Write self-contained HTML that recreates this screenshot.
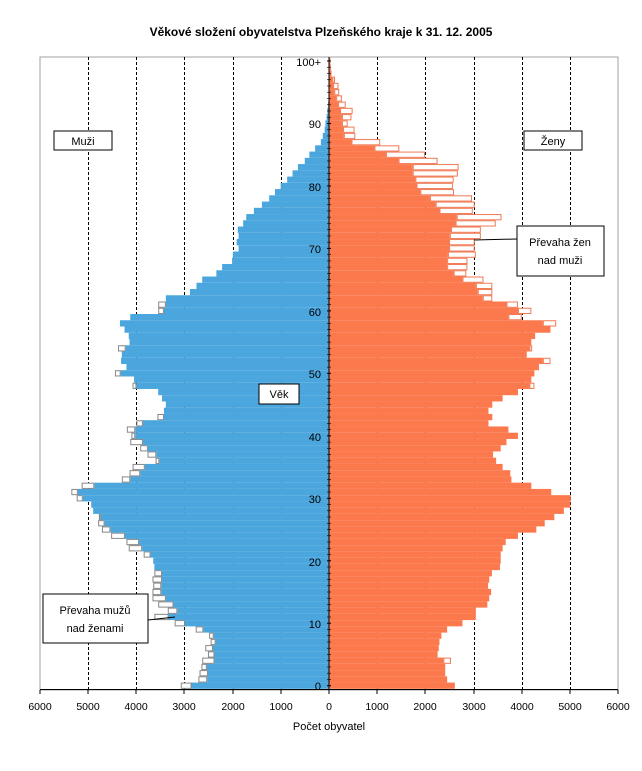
<!DOCTYPE html>
<html><head><meta charset="utf-8"><style>
body{margin:0;background:#fff}
svg{display:block;font-family:"Liberation Sans",Arial,sans-serif}
</style></head><body>
<svg id="s" width="642" height="771" viewBox="0 0 642 771" xmlns="http://www.w3.org/2000/svg">
<rect width="642" height="771" fill="#fff"/>
<text x="321" y="36" text-anchor="middle" font-size="12" font-weight="bold">Věkové složení obyvatelstva Plzeňského kraje k 31. 12. 2005</text>
<rect x="40" y="57" width="578" height="633" fill="#fff" stroke="#a0a0a0"/>
<g id="grid" stroke="#000" stroke-width="1" stroke-dasharray="3,2"></g>
<g id="bars"></g>
<g id="axis"></g>
<g font-size="11" text-anchor="end">
<text x="321" y="66">100+</text><text x="321" y="128">90</text><text x="321" y="191">80</text><text x="321" y="253">70</text><text x="321" y="316">60</text><text x="321" y="378">50</text><text x="321" y="441">40</text><text x="321" y="503">30</text><text x="321" y="566">20</text><text x="321" y="628">10</text><text x="321" y="690">0</text>
</g>
<g font-size="10.5" text-anchor="middle">
<text x="40" y="710">6000</text><text x="88" y="710">5000</text><text x="136" y="710">4000</text><text x="184" y="710">3000</text><text x="233" y="710">2000</text><text x="281" y="710">1000</text><text x="329" y="710">0</text><text x="377" y="710">1000</text><text x="425" y="710">2000</text><text x="474" y="710">3000</text><text x="522" y="710">4000</text><text x="570" y="710">5000</text><text x="618" y="710">6000</text>
</g>
<text x="329" y="730" text-anchor="middle" font-size="11">Počet obyvatel</text>
<rect x="54" y="131" width="58" height="19" fill="#fff" stroke="#000"/>
<text x="83" y="145" text-anchor="middle" font-size="11">Muži</text>
<rect x="524" y="131" width="58" height="19" fill="#fff" stroke="#000"/>
<text x="553" y="145" text-anchor="middle" font-size="11">Ženy</text>
<rect x="259" y="384" width="40" height="20" fill="#fff" stroke="#000"/>
<text x="279" y="398" text-anchor="middle" font-size="11">Věk</text>
<line x1="474" y1="240" x2="517" y2="239" stroke="#000"/>
<rect x="517" y="226" width="87" height="50" fill="#fff" stroke="#000"/>
<text x="560" y="246" text-anchor="middle" font-size="11">Převaha žen</text>
<text x="560" y="264" text-anchor="middle" font-size="11">nad muži</text>
<line x1="148" y1="620" x2="175" y2="617" stroke="#000"/>
<rect x="43" y="594" width="105" height="49" fill="#fff" stroke="#000"/>
<text x="95" y="614" text-anchor="middle" font-size="11">Převaha mužů</text>
<text x="95" y="632" text-anchor="middle" font-size="11">nad ženami</text>
</svg>
<script>
var NS="http://www.w3.org/2000/svg";
function el(p,t,a){var e=document.createElementNS(NS,t);for(var k in a)e.setAttribute(k,a[k]);p.appendChild(e);return e;}
var X=function(z){return 30+z/2.613;};
var Y=function(a){return 685.7-6.247*a;};
var mf=[422,463,465,462,482,482,478,485,480,453,405,362,385,375,355,343,343,345,345,325,322,315,293,285,248,210,195,185,165,160,138,125,168,262,288,300,338,330,308,295,275,275,295,350,350,355,345,335,278,272,237,252,238,240,250,260,258,247,235,262,350,355,355,418,435,450,487,502,528,530,545,540,545,543,557,565,585,606,625,640,655,672,686,700,718,730,745,760,765,770,772,775,777,779,780,781,781,781,781,781,781];
var mo={0:394,1:440,2:443,3:448,4:450,5:465,6:458,7:472,8:468,9:433,10:378,11:325,12:360,13:335,14:320,15:320,16:322,17:320,18:325,21:297,22:258,23:252,24:212,25:188,26:178,27:180,31:108,30:122,32:135,33:240,34:260,35:268,36:328,37:307,38:288,39:262,40:265,41:253,42:278,43:333,48:268,50:222,54:230,60:335,61:335};
var ff=[1110,1090,1085,1085,1080,1065,1068,1070,1075,1090,1130,1165,1165,1195,1200,1205,1197,1200,1207,1228,1230,1230,1235,1243,1275,1323,1345,1370,1395,1412,1413,1362,1310,1258,1255,1235,1218,1210,1230,1245,1275,1250,1198,1208,1198,1208,1235,1275,1305,1310,1318,1330,1340,1298,1305,1310,1320,1360,1340,1250,1275,1245,1183,1170,1165,1130,1107,1090,1090,1092,1095,1095,1097,1100,1112,1115,1070,1060,1045,1020,1010,1007,1000,1000,963,930,900,840,820,818,815,815,810,805,800,795,792,790,788,786,785];
var fo={4:1100,48:1318,52:1360,54:1312,58:1375,59:1285,60:1310,61:1275,62:1208,63:1208,64:1208,65:1185,66:1140,67:1143,68:1143,69:1165,70:1162,71:1162,72:1178,73:1178,74:1217,75:1232,76:1157,77:1162,78:1155,79:1108,80:1105,81:1107,82:1118,83:1120,84:1065,85:1032,86:965,87:915,88:850,89:848,90:830,91:840,92:843,93:825,94:815,95:808,96:806,97:797};
var g=document.getElementById("grid");
[88,136,184,233,281,377,425,474,522,570].forEach(function(x){el(g,"line",{x1:x+.5,y1:57,x2:x+.5,y2:690});});
var b=document.getElementById("bars"),c=329,h=6.25;
for(var a=0;a<=100;a++){
 var y=Y(a)-h/2;
 var xm=X(mf[a]);
 el(b,"rect",{x:xm,y:y,width:Math.max(0,c-xm),height:h,fill:"#4aa6dd"});
 if(mo[a]!==undefined){var xo=X(mo[a]);el(b,"rect",{x:xo+.5,y:y+.5,width:xm-xo-1,height:h-1,fill:"#fff",stroke:"#888"});}
 var xf=X(ff[a]);
 el(b,"rect",{x:c,y:y,width:Math.max(0,xf-c),height:h,fill:"#fc794d"});
 if(fo[a]!==undefined){var xo2=X(fo[a]);el(b,"rect",{x:xf+.5,y:y+.5,width:xo2-xf-1,height:h-1,fill:"#fff",stroke:"#f07a55"});}
}
var ax=document.getElementById("axis");
el(ax,"line",{x1:c,y1:57,x2:c,y2:690,stroke:"#000"});
el(ax,"line",{x1:40,y1:689.5,x2:618,y2:689.5,stroke:"#000"});
for(var a=0;a<=100;a++){var yy=Y(a);el(ax,"line",{x1:c-2,y1:yy,x2:c+2,y2:yy,stroke:"#000","stroke-width":a%10==0?1:.6});}
[40,88,136,184,233,281,329,377,425,474,522,570,618].forEach(function(x){el(ax,"line",{x1:x,y1:690,x2:x,y2:694,stroke:"#000"});});
</script>
</body></html>
